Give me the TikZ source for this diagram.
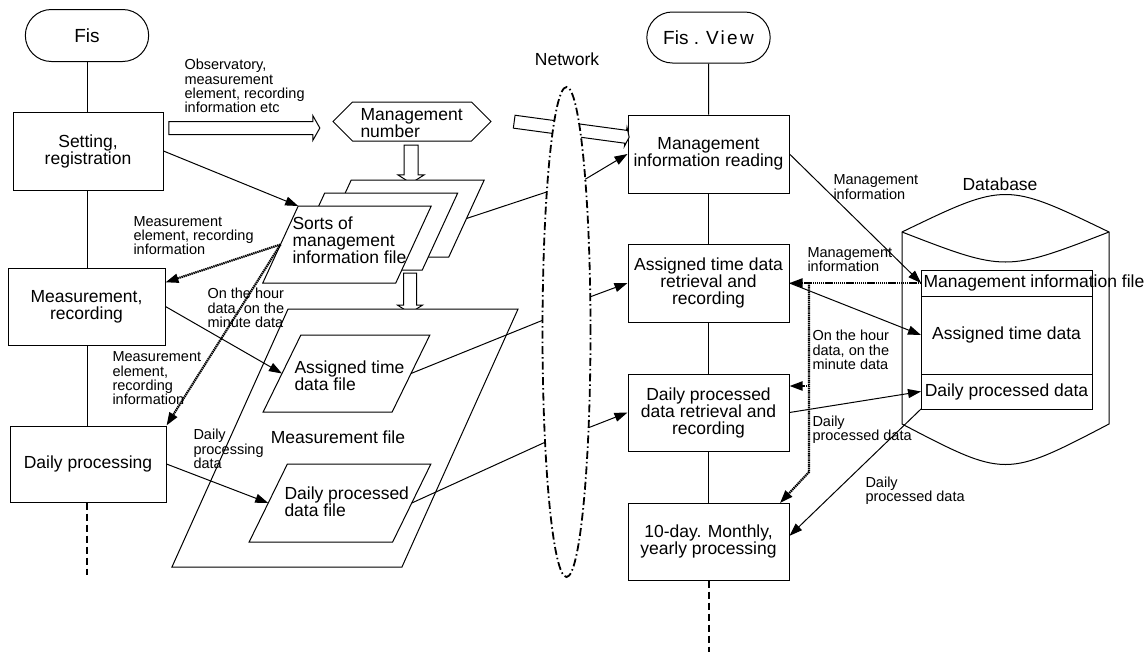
\documentclass[tikz,border=0pt]{standalone}
\usepackage{fontspec}
\setmainfont{Liberation Sans}
\usetikzlibrary{positioning, calc, arrows.meta, shapes.misc, shapes.arrows, shapes.symbols, shapes.geometric}
\newcommand{\mainsize}{\fontsize{17.5}{17}\selectfont}
\newcommand{\smallsize}{\fontsize{14.5}{14.3}\selectfont}
\newcommand{\shaft}[1]{\rule{0pt}{#1}}
\tikzset{
    proc box/.style={rectangle, draw, fill=white, line width=1pt, minimum width=161pt, minimum height=78pt, align=center, font=\mainsize, inner sep=1pt},
    term node/.style={rounded rectangle, draw, line width=1pt, minimum width=130pt, minimum height=52pt, font=\fontsize{19}{19}\selectfont},
    file node/.style={rectangle, draw, fill=white, line width=1pt, inner sep=0pt, outer sep=0pt, xslant=#1},
    file node/.default=0.46,
    file text/.style={anchor=west, align=left, inner sep=0pt, font=\mainsize},
    note label/.style={anchor=west, align=left, inner sep=0pt, font=\smallsize},
    hollow arrow/.style={single arrow, draw, fill=white, line width=1pt, inner sep=0pt, outer sep=0pt, single arrow head extend=6pt},
    flow arrow/.style={-{Triangle[length=13pt, width=9pt]}, line width=1pt},
    data arrow/.style={-{Triangle[length=13pt, width=9pt]}, line width=2.2pt, dash pattern=on 1.4pt off 0.7pt},
    net line/.style={line width=1.8pt, dash pattern=on 8pt off 3pt on 1.5pt off 3pt},
    open end/.style={line width=2pt, dash pattern=on 7pt off 4pt},
    db box/.style={rectangle, draw, line width=1pt, minimum width=171pt, inner sep=0pt, outer sep=0pt, font=\mainsize},
}

\begin{document}
\begin{tikzpicture}[x=1pt, y=-1pt, line width=1pt]
    \useasboundingbox (0,0) rectangle (1147,656);

    % left column
    \node[term node] (fis) at (87,35.5) {Fis};
    \node[proc box, minimum width=150pt] (setting) at (88,151) {Setting,\\registration};
    \node[proc box, minimum width=157pt, minimum height=77pt] (meas) at (86.5,306.5) {Measurement,\\recording};
    \node[proc box, minimum width=156pt, minimum height=76pt] (daily) at (88,464) {Daily processing};
    \coordinate (leftend) at (87,575);
    \draw (fis.south) -- (fis.south |- setting.north);
    \draw (fis.south |- setting.south) -- (fis.south |- meas.north);
    \draw (fis.south |- meas.south) -- (fis.south |- daily.north);
    \draw[open end] (fis.south |- daily.south) -- (leftend);

    % right column
    \node[term node, minimum height=51pt] (fisview) at (708.5,37.5) {Fis . {\addfontfeature{LetterSpace=12}View}};
    \node[proc box] (mir) at (708.5,154) {Management\\information reading};
    \node[proc box] (atb) at (708.5,283) {Assigned time data\\retrieval and\\recording};
    \node[proc box, minimum height=77pt] (dpr) at (708.5,412.5) {Daily processed\\data retrieval and\\recording};
    \node[proc box, minimum height=77pt] (ten) at (708.5,541.5) {10-day. Monthly,\\yearly processing};
    \coordinate (rightend) at (708.5,652);
    \draw (fisview) -- (mir);
    \draw (mir) -- (atb);
    \draw (atb) -- (dpr);
    \draw (dpr) -- (ten);
    \draw[open end] (ten.south) -- (rightend);

    % management number and files
    \node[hollow arrow, minimum height=151pt, single arrow tip angle=121] (setarrow) at (242.5,128) {\shaft{12pt}};
    \node[signal, signal to=east and west, signal pointer angle=90, draw, fill=white, line width=1pt, inner sep=0pt, minimum width=158pt, minimum height=39pt] (mnum) at (412,121.5) {};
    \node[file text] (mnumtext) at (360,123) {Management\\number};
    \node[hollow arrow, rotate=-90, minimum height=38pt, single arrow tip angle=115] (numarrow) at (411,162) {\shaft{13pt}};
    \node[hollow arrow, rotate=-90, minimum height=40pt, single arrow tip angle=115] (sortsarrow) at (410,291) {\shaft{12pt}};

    \node[file node, minimum width=133pt, minimum height=77pt] (sorts3) at (400,218.5) {};
    \node[file node, minimum width=133pt, minimum height=77pt] (sorts2) at (373.5,231.5) {};
    \node[file node, minimum width=133pt, minimum height=77pt] (sorts1) at (347,244.5) {};
    \node[file text] (sortstext) at (292,240) {Sorts of\\management\\information file};

    \node[file node=0.45, minimum width=230pt, minimum height=258pt] (mfile) at (345,438) {};
    \node[font=\mainsize] (mfiletext) at (338,437) {Measurement file};
    \node[file node=0.49, minimum width=129pt, minimum height=77pt] (atf) at (346.5,373.5) {};
    \node[file text] (atftext) at (294,375.5) {Assigned time\\data file};
    \node[file node=0.49, minimum width=143.5pt, minimum height=78pt] (dpf) at (340,503) {};
    \node[file text] (dpftext) at (284,502) {Daily processed\\data file};

    % network
    \node[hollow arrow, rotate=-7.7, minimum height=116pt, single arrow head extend=3pt, single arrow tip angle=140] (netarrow) at (570.5,129.3) {\shaft{12pt}};
    \node[ellipse, draw, net line, fill=white, minimum width=48pt, minimum height=490pt, inner sep=0pt, outer sep=0pt] (net) at (566.5,332) {};
    \node[font=\mainsize] (netlabel) at (567,59) {Network};

    % database
    \draw (902,232) .. controls (1005.5,182) .. (1109,232) -- (1109,424) .. controls (1005.5,478) .. (902,424) -- cycle;
    \draw (902,232) .. controls (1005.5,272) .. (1109,232);
    \node[font=\mainsize] (dblabel) at (1000,184) {Database};
    \node[db box, minimum height=26pt] (mif) at (1006.5,283) {};
    \node[file text] (miftext) at ([xshift=2pt]mif.west) {Management information file};
    \node[db box, minimum height=78pt] (atd) at (1006.5,335) {Assigned time data};
    \node[db box, minimum height=35pt] (dpd) at (1006.5,391.5) {Daily processed data};

    % left connectors
    \draw[flow arrow] (setting.east) -- (sorts1.north west);
    \draw[data arrow] (sorts1.west) -- (meas.17);
    \draw[data arrow] (sorts1.west) -- (daily.north east);
    \draw[flow arrow] (meas.east) -- (atf.west);
    \draw[flow arrow] (daily.east) -- (dpf.west);
    \draw (sorts3.east) -- (net.98);
    \draw (atf.east) -- (net.154);
    \draw (dpf.east) -- (net.259);

    % right connectors
    \draw[flow arrow] (net.83) -- (mir.west);
    \draw[flow arrow] (net.56) -- (atb.west);
    \draw[flow arrow] (net.283) -- (dpr.west);
    \draw[flow arrow] (mir.east) -- (mif.west);
    \draw[data arrow] (mif.west) -- (atb.east);
    \coordinate (tap) at (809,283);
    \coordinate (bend) at (809,472);
    \coordinate (tentop) at (780,503);
    \coordinate (tap2) at (809,386);
    \draw[data arrow] (tap) -- (bend) -- (tentop);
    \draw[data arrow] (tap2) -- (tap2 -| dpr.east);
    \draw[flow arrow] (atb.east) -- (atd.west);
    \draw[flow arrow] (dpr.east) -- (dpd.west);
    \draw[flow arrow] (dpd.south west) -- (ten.4);

    % labels
    \node[note label] (obslabel) at (184,86) {Observatory,\\measurement\\element, recording\\information etc};
    \node[note label] (mlabel1) at (133,235.5) {Measurement\\element, recording\\information};
    \node[note label] (hourlabel1) at (207,308) {On the hour\\data, on the\\minute data};
    \node[note label] (mlabel2) at (112,378.5) {Measurement\\element,\\recording\\information};
    \node[note label] (dplabel) at (193,449) {Daily\\processing\\data};
    \node[note label] (milabel1) at (833,187) {Management\\information};
    \node[note label] (milabel2) at (807,259.5) {Management\\information};
    \node[note label] (hourlabel2) at (812,350) {On the hour\\data, on the\\minute data};
    \node[note label] (dpdlabel1) at (812,430) {Daily\\processed data};
    \node[note label] (dpdlabel2) at (865,491) {Daily\\processed data};
\end{tikzpicture}
\end{document}
